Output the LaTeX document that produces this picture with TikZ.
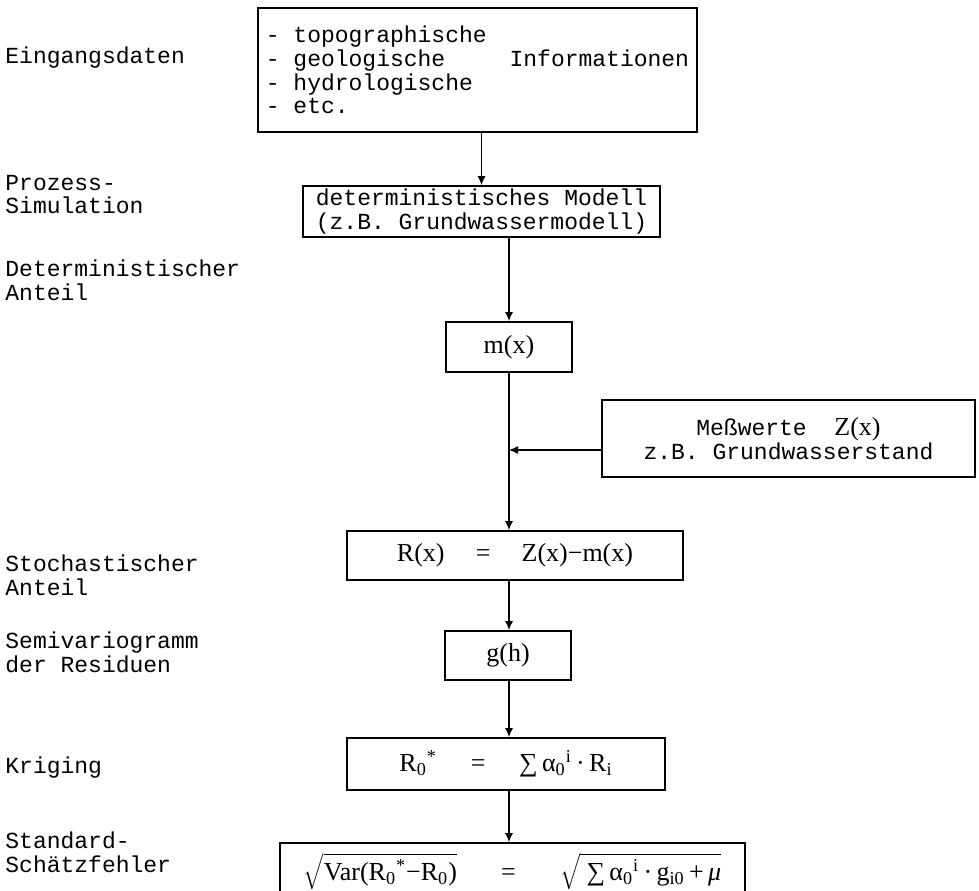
\documentclass[tikz,border=0pt]{standalone}
\usepackage{fontspec}
\setmainfont{Liberation Serif}
\setmonofont{Liberation Mono}
\usetikzlibrary{arrows.meta}
\begin{document}
\begin{tikzpicture}[x=0.5pt, y=-0.5pt,
  box/.style={draw, line width=0.9pt, inner sep=0pt, align=center,
    font=\ttfamily\fontsize{11.5}{11.85}\selectfont},
  mathbox/.style={draw, line width=0.9pt, inner sep=0pt,
    font=\rmfamily\fontsize{13}{14}\selectfont},
  lbl/.style={anchor=west, align=left, inner sep=0pt,
    font=\ttfamily\fontsize{11.5}{11.85}\selectfont},
  flow/.style={-{Latex[length=4.5pt,width=4pt]}, line width=0.6pt}]
  \useasboundingbox (0,0) rectangle (979,890);

  \node[box, align=left, minimum width=219.5pt, minimum height=62pt] (inp) at (477.5,70)
    {- topographische\\
     \makebox[10.6em][l]{- geologische}Informationen\\
     - hydrologische\\
     - etc.};
  \node[box, minimum width=178.5pt, minimum height=25.5pt] (model) at (481.5,211.5)
    {deterministisches Modell\\(z.B. Grundwassermodell)};
  \node[mathbox, minimum width=63pt, minimum height=25pt] (mx) at (509,347) {m(x)};
  \node[box, minimum width=186.5pt, minimum height=38.5pt] (mess) at (788.5,438.5)
    {Meßwerte\ \ {\rmfamily\fontsize{13}{14}\selectfont Z(x)}\\z.B. Grundwasserstand};
  \node[mathbox, minimum width=168pt, minimum height=24.5pt] (resid) at (515,555.5)
    {R(x)\hspace{1.2em}=\hspace{1.2em}Z(x)−m(x)};
  \node[mathbox, minimum width=63pt, minimum height=24.5pt] (semivar) at (508,655.5) {g(h)};
  \node[mathbox, minimum width=159pt, minimum height=26pt] (krig) at (506,764)
    {R\textsubscript{0}\textsuperscript{*}\hspace{1.3em}=\hspace{1.3em}∑\,α\textsubscript{0}\textsuperscript{i}\,·\,R\textsubscript{i}};
  \node[mathbox, minimum width=232.5pt, minimum height=28.5pt] (stderr) at (512.5,871.5)
    {$\sqrt{\hbox{Var(R\textsubscript{0}\textsuperscript{*}−R\textsubscript{0})}}$\hspace{1.7em}=\hspace{1.7em}$\sqrt{\hbox{\ ∑\,α\textsubscript{0}\textsuperscript{i}\,·\,g\textsubscript{i0}\,+\,\textit{μ}}}$};

  \node[lbl] (lEin) at (5,58) {Eingangsdaten};
  \node[lbl] (lProz) at (5,194.5) {Prozess-\\Simulation};
  \node[lbl] (lDet) at (5,280) {Deterministischer\\Anteil};
  \node[lbl] (lSto) at (5,575.5) {Stochastischer\\Anteil};
  \node[lbl] (lSemi) at (5,652) {Semivariogramm\\der Residuen};
  \node[lbl] (lKrig) at (5,768) {Kriging};
  \node[lbl] (lStd) at (5,852.5) {Standard-\\Schätzfehler};

  \coordinate (join) at (509,450);
  \draw[flow] (inp.south -| model.north) -- (model.north);
  \draw[flow] (model.south -| mx.north) -- (mx.north);
  \draw[flow] (mx.south) -- (mx.south |- resid.north);
  \draw[flow] (mess.west |- join) -- (join);
  \draw[flow] (resid.south -| mx.south) -- (semivar.north -| mx.south);
  \draw[flow] (semivar.south -| mx.south) -- (krig.north -| mx.south);
  \draw[flow] (krig.south -| mx.south) -- (stderr.north -| mx.south);
\end{tikzpicture}
\end{document}
